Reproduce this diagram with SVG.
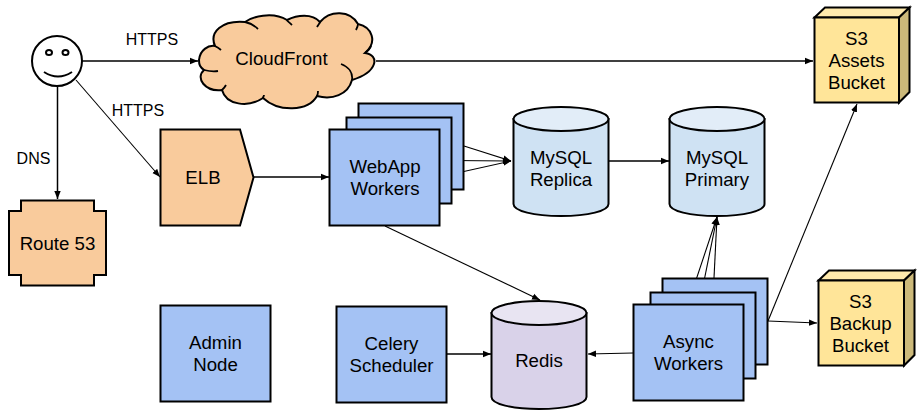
<svg xmlns="http://www.w3.org/2000/svg" width="921" height="417" viewBox="0 0 921 417">
<style>
text{font-family:"Liberation Sans",Arial,sans-serif;font-size:18.67px;fill:#000;text-anchor:middle}
.l{font-size:16px}
.s{stroke:#000;stroke-width:2;stroke-linejoin:miter}
.o{fill:#f9cb9c}.b{fill:#a4c2f4}.y{fill:#ffe599}.yd{fill:#ccb97a}.yl{fill:#ffeaad}
.c{fill:#cfe2f3}.cl{fill:#e2edf8}.p{fill:#d9d2e9}.pl{fill:#e8e4f2}
.e{fill:none;stroke:#000;stroke-width:1.1;marker-end:url(#a)}
.h{fill:none;stroke:#000;stroke-width:1.5;marker-end:url(#a)}
</style>
<defs>
<marker id="a" markerUnits="userSpaceOnUse" markerWidth="10" markerHeight="8" refX="8" refY="4" orient="auto"><path d="M0 0.8L8 4L0 7.200z" fill="#000"/></marker>
</defs>
<g id="connectors">
<path class="h" d="M82 61H198"/>
<path class="h" d="M376 61H813"/>
<path class="h" d="M57.500 87V199"/>
<path class="e" d="M76 80L160 177"/>
<path class="h" d="M254 177H329"/>
<path class="e" d="M464 146L511 161"/>
<path class="e" d="M451 160.500L511 161"/>
<path class="e" d="M439 177L511 161"/>
<path class="h" d="M609 161H669"/>
<path class="e" d="M385 226L540 300"/>
<path class="h" d="M446 354H491"/>
<path class="e" d="M633 353L588 354"/>
<path class="e" d="M688 304L717 217"/>
<path class="e" d="M702 291L717 217"/>
<path class="e" d="M714 278L717 217"/>
<path class="e" d="M768 321L857 104"/>
<path class="e" d="M768 321L817 323"/>
</g>
<g id="user">
<circle class="s" cx="57" cy="61" r="25" fill="#fff"/>
<ellipse cx="49" cy="52.500" rx="3" ry="2.500" fill="none" class="s"/>
<ellipse cx="65.500" cy="52.500" rx="3" ry="2.500" fill="none" class="s"/>
<path d="M44 72Q58 81 72 72" fill="none" class="s"/>
</g>
<g id="route53">
<path class="s o" d="M21 200.500H94V211H106V275H94V285.500H21V275H9V211H21z"/>
<text x="57.500" y="250">Route 53</text>
</g>
<g id="cloudfront">
<path class="s o" d="M199 60C200 50 208 45 215 46C209 32 222 20 245 22C252 17 272 11 287 20C297 15 312 13 320 22C330 10 350 10 358 24C372 27 378 42 365 53C380 55 378 72 352 80C348 95 332 100 317 96C308 112 278 112 263 98C248 108 226 105 222 90C205 92 195 78 204 70C200 67 199 65 199 60z"/>
<path fill="none" stroke="#000" stroke-width="1.800" d="M204 70C208 71 213 72 218 71M222 90C224 88 225 87 226 85M263 98C263 97 264 96 264 95M317 96C318 94 318 93 318 91M352 80C353 73 349 67 341 64M365 53C368 51 370 49 371 46M358 24C358 26 357 28 356 30M320 22C320 23 318 25 317 27M287 20C287 21 290 23 292 25M245 22C250 23 255 26 258 29M215 46C217 47 219 48 221 50"/>
<text x="281.500" y="65">CloudFront</text>
</g>
<g id="elb">
<path class="s o" d="M160.500 129.500H240L253.500 177.500L240 225.500H160.500z"/>
<text x="203" y="184">ELB</text>
</g>
<g id="webapp">
<rect class="s b" x="358.500" y="103.500" width="105" height="86"/>
<rect class="s b" x="346.500" y="117.500" width="105" height="86"/>
<rect class="s b" x="329.500" y="129.500" width="110" height="96"/>
<text x="385" y="173.300">WebApp</text><text x="385" y="195.300">Workers</text>
</g>
<g id="replica">
<path class="s c" d="M513.500 119V204C513.500 211 534 216 561 216S608.500 211 608.500 204V119z"/>
<ellipse class="s cl" cx="561" cy="119" rx="47.500" ry="12"/>
<text x="561" y="164.300">MySQL</text><text x="561" y="186.300">Replica</text>
</g>
<g id="primary">
<path class="s c" d="M669.500 119V204C669.500 211 690 216 717 216S764.500 211 764.500 204V119z"/>
<ellipse class="s cl" cx="717" cy="119" rx="47.500" ry="12"/>
<text x="717" y="164.300">MySQL</text><text x="717" y="186.300">Primary</text>
</g>
<g id="s3assets">
<path class="s yl" d="M814.500 17.500L825 7.500H909.500L899 17.500z"/>
<path class="s yd" d="M899 17.500L909.500 7.500V92L899 102.500z"/>
<rect class="s y" x="814.500" y="17.500" width="84.500" height="85"/>
<text x="856.500" y="45">S3</text><text x="856.500" y="67">Assets</text><text x="856.500" y="89">Bucket</text>
</g>
<g id="s3backup">
<path class="s yl" d="M818.500 280.500L829 270.500H914.500L904 280.500z"/>
<path class="s yd" d="M904 280.500L914.500 270.500V355L904 365.500z"/>
<rect class="s y" x="818.500" y="280.500" width="85.500" height="85"/>
<text x="860.500" y="307.500">S3</text><text x="860.500" y="329.500">Backup</text><text x="860.500" y="351.500">Bucket</text>
</g>
<g id="admin">
<rect class="s b" x="160.500" y="305.500" width="110" height="96"/>
<text x="215.500" y="349.300">Admin</text><text x="215.500" y="371.300">Node</text>
</g>
<g id="celery">
<rect class="s b" x="336.500" y="306.500" width="110" height="96"/>
<text x="391.500" y="350">Celery</text><text x="391.500" y="372">Scheduler</text>
</g>
<g id="redis">
<path class="s p" d="M491.500 313V397C491.500 404 512 409 539 409S586.500 404 586.500 397V313z"/>
<ellipse class="s pl" cx="539" cy="313" rx="47.500" ry="12"/>
<text x="539" y="367">Redis</text>
</g>
<g id="async">
<rect class="s b" x="662.500" y="278.500" width="105" height="86"/>
<rect class="s b" x="650.500" y="292.500" width="105" height="86"/>
<rect class="s b" x="633.500" y="304.500" width="110" height="96"/>
<text x="688.500" y="348.300">Async</text><text x="688.500" y="370.300">Workers</text>
</g>
<g id="labels">
<text class="l" x="152" y="44.600">HTTPS</text>
<text class="l" x="138" y="115.600">HTTPS</text>
<text class="l" x="33.500" y="163.600">DNS</text>
</g>
</svg>
